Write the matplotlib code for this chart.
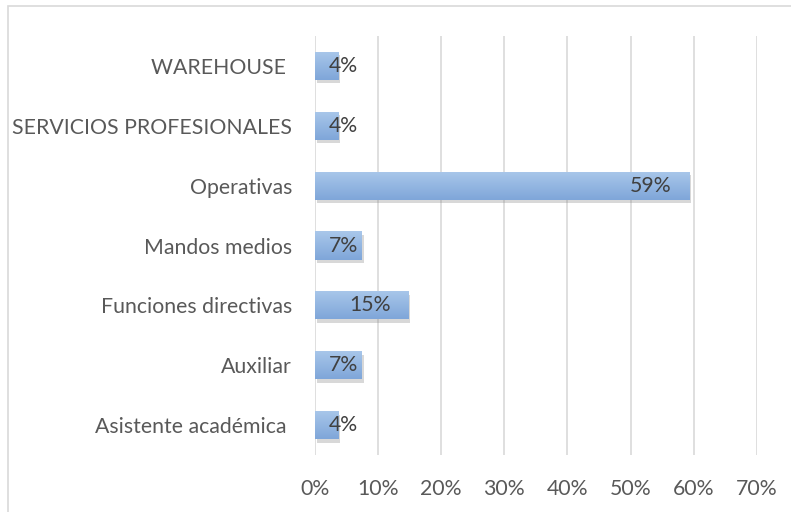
import numpy as np
import matplotlib
matplotlib.use("Agg")
from matplotlib import pyplot as plt
from matplotlib import patheffects as pe
from matplotlib.colors import LinearSegmentedColormap
from matplotlib.patches import Rectangle

# Data (27 respondents)
categories = [
    "Asistente académica ",
    "Auxiliar",
    "Funciones directivas",
    "Mandos medios",
    "Operativas",
    "SERVICIOS PROFESIONALES",
    "WAREHOUSE ",
]
values = [1 / 27, 2 / 27, 4 / 27, 2 / 27, 16 / 27, 1 / 27, 1 / 27]
xticks = [0, 0.1, 0.2, 0.3, 0.4, 0.5, 0.6, 0.7]

TEXT = "#595959"
GRID = "#d9d9d9"
FS = 15.3
plt.rcParams["font.family"] = ["Lato", "DejaVu Sans"]

fig = plt.figure(figsize=(7.91, 5.12), dpi=100)
ax = fig.add_axes([0.398, 0.111, 0.559, 0.819])

# outer chart frame
fig.patches.append(
    Rectangle((0.0095, -0.05), 1.1, 1.0 - 0.0117 + 0.05, transform=fig.transFigure,
              fill=False, edgecolor=GRID, lw=1.2)
)

grad = LinearSegmentedColormap.from_list("bar", ["#a9c7ea", "#7fa6d9"])
ypos = np.arange(len(categories))
bars = ax.barh(ypos, values, height=0.47, color="#8fb3e0", zorder=3,
               path_effects=[pe.SimplePatchShadow(offset=(1.5, -2.5), shadow_rgbFace="#808080",
                                                  alpha=0.3), pe.Normal()])
for b in bars:
    x0, y0, w, h = b.get_x(), b.get_y(), b.get_width(), b.get_height()
    # light at top, darker at bottom
    im = ax.imshow(np.linspace(0, 1, 50).reshape(-1, 1), cmap=grad, aspect="auto",
                   extent=[x0, x0 + w, y0, y0 + h], origin="upper", zorder=4)
    im.set_clip_path(b)

for y, v in zip(ypos, values):
    ax.text(max(v - 0.028, 0.068), y, f"{v:.0%}", ha="right", va="center",
            fontsize=FS, color="#404040", zorder=5)

ax.set_xlim(0, 0.7)
ax.set_ylim(-0.5, len(categories) - 0.5)
ax.set_xticks(xticks)
ax.set_xticklabels([f"{t:.0%}" for t in xticks])
ax.set_yticks(ypos)
ax.set_yticklabels(categories)
ax.tick_params(axis="both", length=0, labelsize=FS, colors=TEXT)
ax.tick_params(axis="y", pad=16.5)
ax.tick_params(axis="x", pad=17)
ax.grid(axis="x", color=GRID, lw=1.2, zorder=0)
for s in ax.spines.values():
    s.set_visible(False)

fig.savefig("out.png", dpi=100)
